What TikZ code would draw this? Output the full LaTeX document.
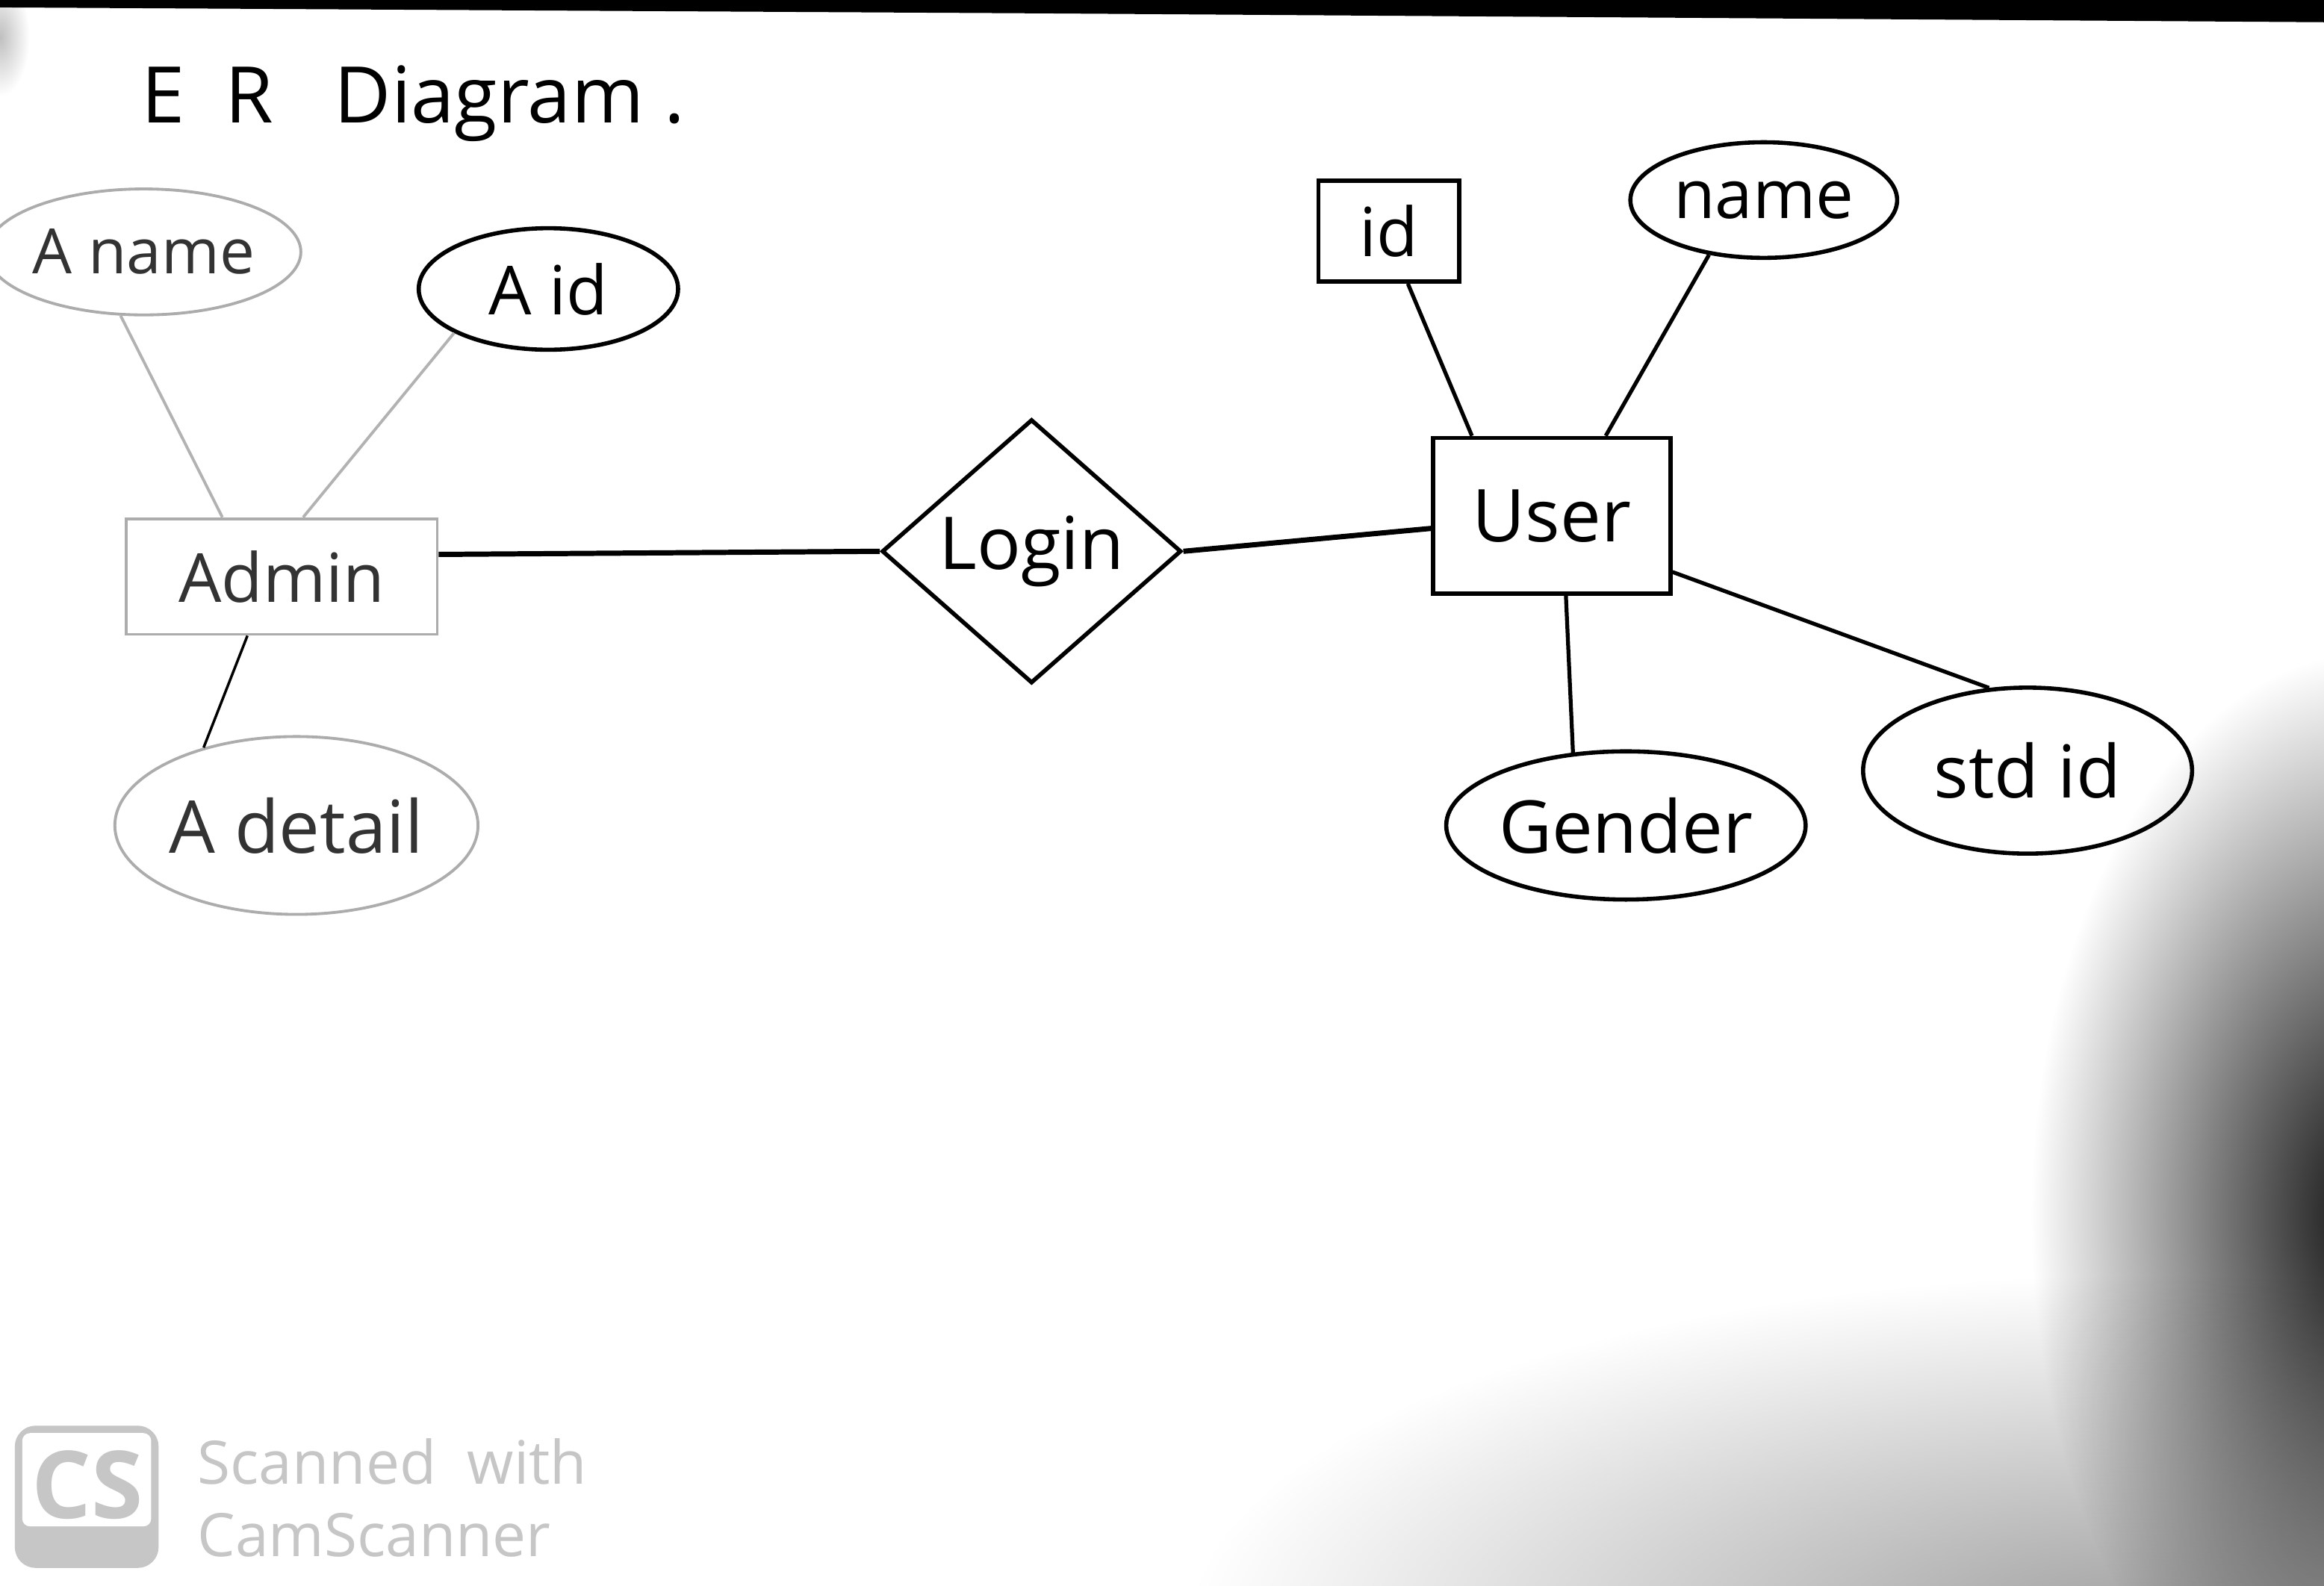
\documentclass[tikz,border=0pt]{standalone}
\usepackage{fontspec}
\setmainfont{Open Sans}
\usetikzlibrary{shapes.geometric}
\begin{document}
\begin{tikzpicture}[x=0.2mm,y=-0.2mm,
  ent/.style={draw=black,line width=1.6pt,rectangle,inner sep=0pt},
  attr/.style={draw=black,line width=1.6pt,ellipse,inner sep=0pt},
  rel/.style={draw=black,line width=1.6pt,diamond,inner sep=0pt},
  pencil/.style={draw=gray!65,line width=1.1pt,text=black!80},
  lab/.style={font=\fontsize{26}{30}\selectfont},
  big/.style={font=\fontsize{28}{32}\selectfont},
  conn/.style={line width=1.5pt},
  pconn/.style={draw=gray!60,line width=1.1pt},
  wm/.style={text=gray!45,inner sep=0pt,anchor=west,font=\fontsize{23}{27}\selectfont}]
\useasboundingbox (0,0) rectangle (1568,1070);
\fill[white] (0,0) rectangle (1568,1070);
% scan artefacts
\fill[black] (0,0) -- (1568,0) -- (1568,15) -- (700,9) -- (0,5) -- cycle;
\begin{scope}[blend mode=multiply]
  \shade[inner color=black!95,outer color=white] (1600,820) ellipse [x radius=230,y radius=380];
  \shade[inner color=gray!75,outer color=white] (1450,1100) ellipse [x radius=650,y radius=240];
  \shade[inner color=gray!50,outer color=white] (0,25) ellipse [x radius=20,y radius=40];
\end{scope}

% title
\node[font=\fontsize{30}{36}\selectfont,anchor=west,inner sep=0pt] (title) at (95,70) {E\ \ R\ \ \ Diagram\ .};

% admin side
\node[attr,pencil,minimum width=37mm,minimum height=17mm,font=\fontsize{24}{28}\selectfont] (aname) at (97,170) {A name};
\node[attr,lab,minimum width=35mm,minimum height=16.4mm] (aid) at (370,195) {A id};
\node[ent,pencil,lab,minimum width=42mm,minimum height=15.6mm] (admin) at (190,389) {Admin};
\node[attr,pencil,big,minimum width=49mm,minimum height=24mm] (adetail) at (200,557) {A detail};

% relationship
\node[rel,big,minimum width=40.4mm,minimum height=35.6mm] (login) at (696,372) {Login};

% user side
\node[ent,big,minimum width=32mm,minimum height=21mm] (user) at (1047,348) {User};
\node[ent,lab,minimum width=19mm,minimum height=13.6mm] (id) at (937,156) {id};
\node[attr,lab,minimum width=36mm,minimum height=15.6mm] (name) at (1190,135) {name};
\node[attr,big,minimum width=46mm,minimum height=20mm] (gender) at (1097,557) {Gender};
\node[attr,big,minimum width=44.4mm,minimum height=22.4mm] (stdid) at (1368,520) {std id};

% connectors
\draw[pconn] (aname.250) -- (admin.135);
\draw[pconn] (aid.205) -- (admin.70);
\draw[conn,line width=1pt] (admin.240) -- (adetail.140);
\draw[conn,line width=2pt] (admin.8) -- (login.west);
\draw[conn,line width=2pt] (login.east) -- (user.186);
\draw[conn] (id.290) -- (user.135);
\draw[conn] (name.225) -- (user.56);
\draw[conn] (user.280) -- (gender.126);
\draw[conn] (user.335) -- (stdid.115);

% watermark
\fill[gray!45,rounded corners=8pt] (10,962) rectangle (107,1058);
\fill[white,rounded corners=3pt] (15,967) rectangle (102,1030);
\node[text=gray!45,font=\bfseries\fontsize{36}{36}\selectfont,inner sep=0pt] (cs) at (59,1002) {CS};
\node[wm] (wm1) at (133,986) {Scanned\ \ with};
\node[wm] (wm2) at (133,1036) {CamScanner};
\end{tikzpicture}
\end{document}
